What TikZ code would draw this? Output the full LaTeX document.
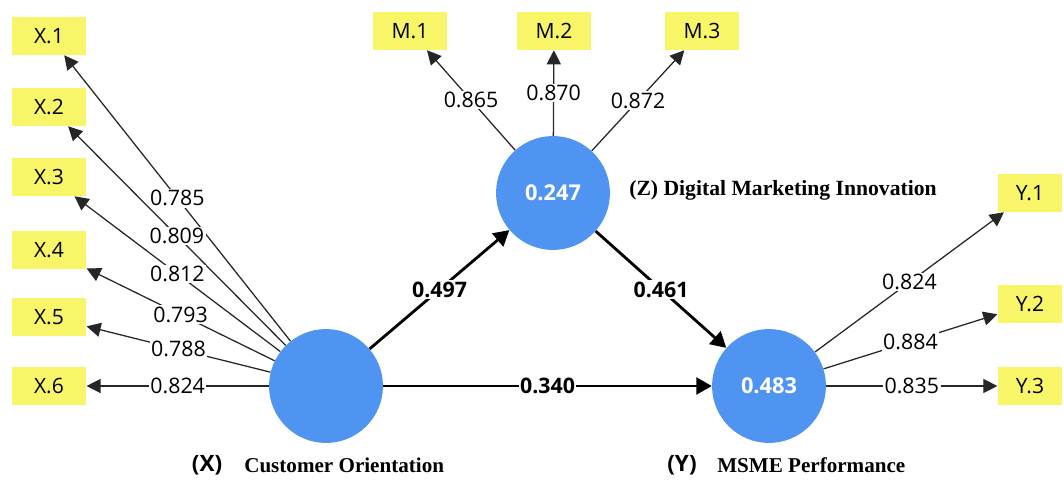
\documentclass[tikz,border=0pt]{standalone}
\usepackage{fontspec}
\setmainfont{Liberation Serif}
\newfontfamily\plsfont{Open Sans}
\usetikzlibrary{arrows.meta}
\definecolor{lvblue}{RGB}{80,148,242}
\definecolor{indyellow}{RGB}{248,245,104}
\tikzset{
  latent/.style={circle, fill=lvblue, minimum size=81pt, inner sep=0pt, text=white, font=\plsfont\bfseries\fontsize{15.5}{18}\selectfont},
  indic/.style={rectangle, fill=indyellow, minimum width=53pt, minimum height=27pt, inner sep=0pt, font=\plsfont\fontsize{15}{18}\selectfont},
  loadarr/.style={-{Triangle[length=10pt,width=10pt]}, line width=0.9pt, draw=black!85},
  patharr/.style={-{Triangle[length=11pt,width=12pt]}, line width=2pt},
  lbl/.style={font=\plsfont\fontsize{15.2}{18}\selectfont, fill=white, inner sep=1pt},
  blbl/.style={font=\plsfont\bfseries\fontsize{15.2}{18}\selectfont, fill=white, inner sep=1pt},
  tagn/.style={font=\plsfont\bfseries\fontsize{16}{18}\selectfont, inner sep=0pt},
  capn/.style={font=\bfseries\fontsize{15}{18}\selectfont, inner sep=0pt, anchor=west},
}

\begin{document}
\begin{tikzpicture}[x=0.025cm, y=-0.025cm]
\useasboundingbox (0,0) rectangle (1064,480);
% latent variables
\node[latent] (X) at (326,386) {};
\node[latent] (Z) at (553,193) {0.247};
\node[latent] (Y) at (769,386) {0.483};
% indicators
\node[indic] (x1) at (49,36) {X.1};
\node[indic] (x2) at (49,107) {X.2};
\node[indic] (x3) at (49,177) {X.3};
\node[indic] (x4) at (49,250) {X.4};
\node[indic] (x5) at (49,317) {X.5};
\node[indic] (x6) at (49,386) {X.6};
\node[indic] (m1) at (410,31) {M.1};
\node[indic] (m2) at (554,31) {M.2};
\node[indic] (m3) at (702,31) {M.3};
\node[indic, minimum width=46pt] (y1) at (1030,193) {Y.1};
\node[indic, minimum width=46pt] (y2) at (1030,304) {Y.2};
\node[indic, minimum width=46pt] (y3) at (1030,386) {Y.3};
% outer loadings
\draw[loadarr] (X) -- node[lbl]{0.785} (x1);
\draw[loadarr] (X) -- node[lbl]{0.809} (x2);
\draw[loadarr] (X) -- node[lbl]{0.812} (x3);
\draw[loadarr] (X) -- node[lbl]{0.793} (x4);
\draw[loadarr] (X) -- node[lbl]{0.788} (x5);
\draw[loadarr] (X) -- node[lbl]{0.824} (x6);
\draw[loadarr] (Z) -- node[lbl]{0.865} (m1);
\draw[loadarr] (Z) -- node[lbl]{0.870} (m2);
\draw[loadarr] (Z) -- node[lbl]{0.872} (m3);
\draw[loadarr] (Y) -- node[lbl]{0.824} (y1);
\draw[loadarr] (Y) -- node[lbl]{0.884} (y2);
\draw[loadarr] (Y) -- node[lbl]{0.835} (y3);
% path coefficients
\draw[patharr] (X) -- node[blbl]{0.497} (Z);
\draw[patharr] (Z) -- node[blbl]{0.461} (Y);
\draw[patharr] (X) -- node[blbl]{0.340} (Y);
% construct names
\node[tagn] (xtag) at (207,465) {(X)};
\node[capn] (xname) at (244,465) {Customer Orientation};
\node[tagn] (ytag) at (682,465) {(Y)};
\node[capn] (yname) at (717,465) {MSME Performance};
\node[capn, font=\bfseries\fontsize{15.4}{18}\selectfont] (zname) at (629,190) {(Z) Digital Marketing Innovation};
\end{tikzpicture}
\end{document}
